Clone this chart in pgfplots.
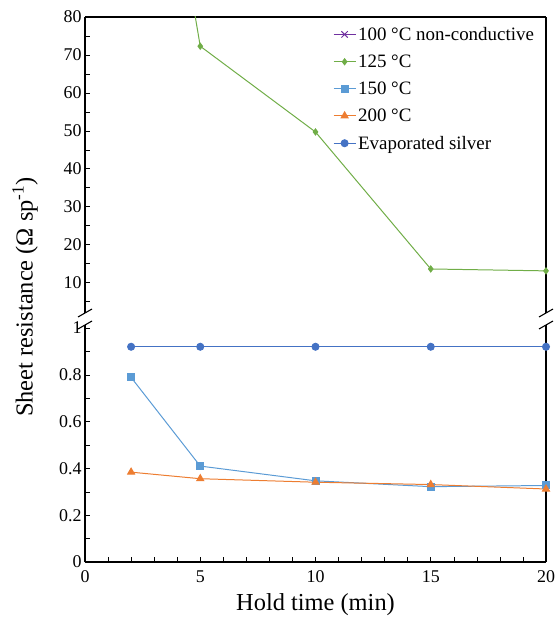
\documentclass[border=0pt]{standalone}
\usepackage{fontspec}
\setmainfont{Liberation Serif}
\usepackage{pgfplots}
\pgfplotsset{compat=1.18}

\definecolor{c100}{HTML}{7030A0}
\definecolor{c125}{HTML}{70AD47}
\definecolor{c150}{HTML}{5B9BD5}
\definecolor{c200}{HTML}{ED7D31}
\definecolor{cAg}{HTML}{4472C4}

\pgfplotsset{
  brk/.style={
    scale only axis, width=461bp,
    xmin=0, xmax=20,
    axis y line*=box,
    ytick pos=left,
    tick align=inside,
    major tick length=5bp, minor tick length=5bp,
    every tick/.style={black, line width=0.6pt},
    axis line style={line width=1.3pt},
    tick label style={font=\fontsize{18}{18}\selectfont},
    /pgf/number format/assume math mode=true,
    every axis plot/.append style={line width=1pt},
  }
}

\begin{document}
\begin{tikzpicture}

% lower panel, 0 to 1
\begin{axis}[brk, name=bot, at={(0,0)}, height=237bp,
  ymin=0, ymax=1.013,
  axis x line*=bottom, xtick pos=bottom,
  xtick={0,5,10,15,20}, minor x tick num=4,
  xticklabel style={yshift=-5bp},
  ytick={0,0.2,0.4,0.6,0.8,1}, minor ytick={0.1,0.3,0.5,0.7,0.9},
  xlabel={Hold time (min)},
  xlabel style={font=\fontsize{24.5}{24.5}\selectfont, yshift=-4bp},
]
\addplot[c150, mark=square*, mark size=3.5bp] coordinates {
  (2,0.789) (5,0.41) (10,0.347) (15,0.322) (20,0.327)
};
\addplot[c200, mark=triangle*, mark size=4bp] coordinates {
  (2,0.384) (5,0.356) (10,0.341) (15,0.331) (20,0.312)
};
\addplot[cAg, mark=*, mark size=3.5bp] coordinates {
  (2,0.92) (5,0.92) (10,0.92) (15,0.92) (20,0.92)
};
\end{axis}

% upper panel, 2 to 80
\begin{axis}[brk, name=top, at={(0,249bp)}, height=296bp,
  ymin=2, ymax=80,
  axis x line*=top, xtick=\empty,
  ytick={10,20,30,40,50,60,70,80}, minor ytick={5,15,25,35,45,55,65,75},
  legend cell align=left,
  legend style={draw=none, fill=none, at={(0.985,0.98)}, anchor=north east,
    font=\fontsize{19}{19}\selectfont, row sep=9bp},
  legend image code/.code={
    \draw[mark repeat=2,mark phase=2,#1] plot coordinates {(0bp,0bp) (11bp,0bp) (22bp,0bp)};
  },
]
\addlegendimage{c100, mark=x, mark size=4.5bp, line width=1pt}
\addplot[c125, mark=diamond*, mark size=3bp] coordinates {
  (2,180) (5,72.3) (10,49.7) (15,13.6) (20,13.1)
};
\addlegendimage{c150, mark=square*, mark size=3.5bp, line width=1pt}
\addlegendimage{c200, mark=triangle*, mark size=4bp, line width=1pt}
\addlegendimage{cAg, mark=*, mark size=3.5bp, line width=1pt}
\legend{100 °C non-conductive, 125 °C, 150 °C, 200 °C, Evaporated silver}
\end{axis}

% break marks
\foreach \c in {top.south west, top.south east, bot.north west, bot.north east}
  \draw[line width=1.1pt] ([shift={(-7bp,-4bp)}]\c) -- ++(14bp,8bp);

\node[rotate=90, font=\fontsize{24.5}{24.5}\selectfont] at (-60bp,265bp)
  {Sheet resistance (Ω sp\textsuperscript{-1})};

\pgfresetboundingbox
\path[use as bounding box] (-85bp,-56bp) rectangle (472bp,562bp);
\end{tikzpicture}
\end{document}
